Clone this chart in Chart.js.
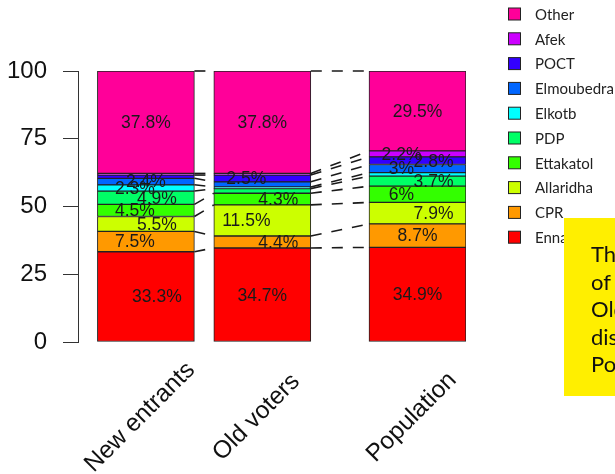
<!DOCTYPE html>
<html><head><meta charset="utf-8">
<script src="https://cdn.jsdelivr.net/npm/chart.js@4/dist/chart.umd.min.js"></script>
<style>html,body{margin:0;padding:0;background:#fff;}#wrap{width:615px;height:474px;position:relative;}</style>
</head><body><div id="wrap"><canvas id="c"></canvas></div>
<script>
const groups = ['New entrants', 'Old voters', 'Population'];
const groupPos = [0.7, 1.9, 3.5];
const parties = ['Ennahdha', 'CPR', 'Allaridha', 'Ettakatol', 'PDP', 'Elkotb', 'Elmoubedra', 'POCT', 'Afek', 'Other'];
const colors = ['#FF0000', '#FF9900', '#CCFF00', '#33FF00', '#00FF66', '#00FFFF', '#0066FF', '#3300FF', '#CC00FF', '#FF0099'];
const newEntrants = [33.3, 7.5, 5.5, 4.5, 4.9, 2.3, 2.4, 1.2, 0.6, 37.8];
const oldVoters   = [34.7, 4.4, 11.5, 4.3, 1.7, 0.6, 1.9, 2.5, 0.6, 37.8];
const population  = [34.9, 8.7, 7.9, 6, 3.7, 1.3, 3, 2.8, 2.2, 29.5];
const yTicks = [0, 25, 50, 75, 100];
const noteLines = ['The vote shares', 'of New entrants,', 'Old voters and', 'distribution in the', 'Population'];
// horizontal nudges of the percentage labels (px), per group
const labelNudge = [
  [11, -11, 11, -11, 11, -11, 0, 0, 0, 0],
  [0, 16, -16, 16, 0, 0, 0, -16, 0, 0],
  [0, 0, 16, -16, 16, 0, -16, 16, -16, 0]
];
const seriesByGroup = [newEntrants, oldVoters, population];

const datasets = parties.map((p, i) => ({
  label: p,
  data: groups.map((g, j) => ({x: groupPos[j], y: seriesByGroup[j][i]})),
  backgroundColor: colors[i],
  borderColor: '#222',
  borderWidth: 1,
  borderSkipped: false,
  barThickness: 97
}));

const overlay = {
  id: 'overlay',
  afterDatasetsDraw(chart) {
    const ctx = chart.ctx;
    const n = parties.length;
    // connecting dashed lines
    ctx.save();
    ctx.strokeStyle = '#1a1a1a';
    ctx.lineWidth = 1.6;
    ctx.setLineDash([11, 10]);
    for (let j = 0; j < groups.length - 1; j++) {
      for (let i = 0; i < n; i++) {
        const a = chart.getDatasetMeta(i).data[j];
        const b = chart.getDatasetMeta(i).data[j + 1];
        ctx.beginPath();
        ctx.moveTo(a.x + a.width / 2, a.y);
        ctx.lineTo(b.x - b.width / 2, b.y);
        ctx.stroke();
      }
    }
    ctx.restore();
    // value labels
    ctx.save();
    ctx.font = '17.5px "Liberation Sans", Arial, sans-serif';
    ctx.fillStyle = '#1a1a1a';
    ctx.textAlign = 'center';
    ctx.textBaseline = 'middle';
    for (let i = 0; i < n; i++) {
      const meta = chart.getDatasetMeta(i);
      for (let j = 0; j < groups.length; j++) {
        const v = seriesByGroup[j][i];
        if (v < 2) continue;
        const el = meta.data[j];
        ctx.fillText(v + '%', el.x + labelNudge[j][i], (el.y + el.base) / 2 + 1);
      }
    }
    ctx.restore();
    // x labels
    const ca = chart.chartArea;
    ctx.save();
    ctx.font = '24.5px "Liberation Sans", Arial, sans-serif';
    ctx.fillStyle = '#111';
    ctx.textAlign = 'center';
    ctx.textBaseline = 'alphabetic';
    for (let j = 0; j < groups.length; j++) {
      const el = chart.getDatasetMeta(0).data[j];
      ctx.save();
      ctx.translate(el.x - 1, ca.bottom + 80);
      ctx.rotate(-Math.PI / 4);
      ctx.fillText(groups[j], 0, 0);
      ctx.restore();
    }
    ctx.restore();
    // legend
    ctx.save();
    ctx.font = '15px Lato, "Open Sans", sans-serif';
    ctx.textAlign = 'left';
    ctx.textBaseline = 'middle';
    for (let k = 0; k < n; k++) {
      const i = n - 1 - k;
      const cy = 14 + k * 24.8;
      ctx.fillStyle = colors[i];
      ctx.fillRect(508.5, cy - 6, 12, 12);
      ctx.strokeStyle = '#222';
      ctx.lineWidth = 1;
      ctx.strokeRect(508.5, cy - 6, 12, 12);
      ctx.fillStyle = '#222';
      ctx.fillText(parties[i], 535, cy + 1);
    }
    ctx.restore();
    // yellow note box
    ctx.save();
    ctx.fillStyle = '#FFEF00';
    ctx.fillRect(564, 218, 60, 178);
    ctx.fillStyle = '#111';
    ctx.font = '22px Lato, "Open Sans", sans-serif';
    ctx.textAlign = 'left';
    ctx.textBaseline = 'alphabetic';
    noteLines.forEach((t, k) => ctx.fillText(t, 591, 262 + k * 27.5));
    ctx.restore();
  }
};

new Chart(document.getElementById('c'), {
  type: 'bar',
  data: {datasets},
  options: {
    responsive: true,
    maintainAspectRatio: false,
    animation: false,
    layout: {padding: {left: 0, right: 149, top: 71, bottom: 132}},
    plugins: {legend: {display: false}, tooltip: {enabled: false}},
    scales: {
      x: {type: 'linear', min: 0, max: 4, display: false, stacked: true, offset: false, grid: {offset: false}},
      y: {
        min: 0, max: 100, stacked: true,
        afterBuildTicks: s => { s.ticks = yTicks.map(v => ({value: v})); },
        afterFit: s => { s.width = 78; },
        grid: {drawOnChartArea: false, drawTicks: true, tickLength: 15, color: '#333', lineWidth: 1},
        border: {display: true, color: '#333', width: 1},
        ticks: {padding: 16, color: '#111', font: {family: '"Liberation Sans", Arial, sans-serif', size: 24}}
      }
    }
  },
  plugins: [overlay]
});
</script>
</body></html>
